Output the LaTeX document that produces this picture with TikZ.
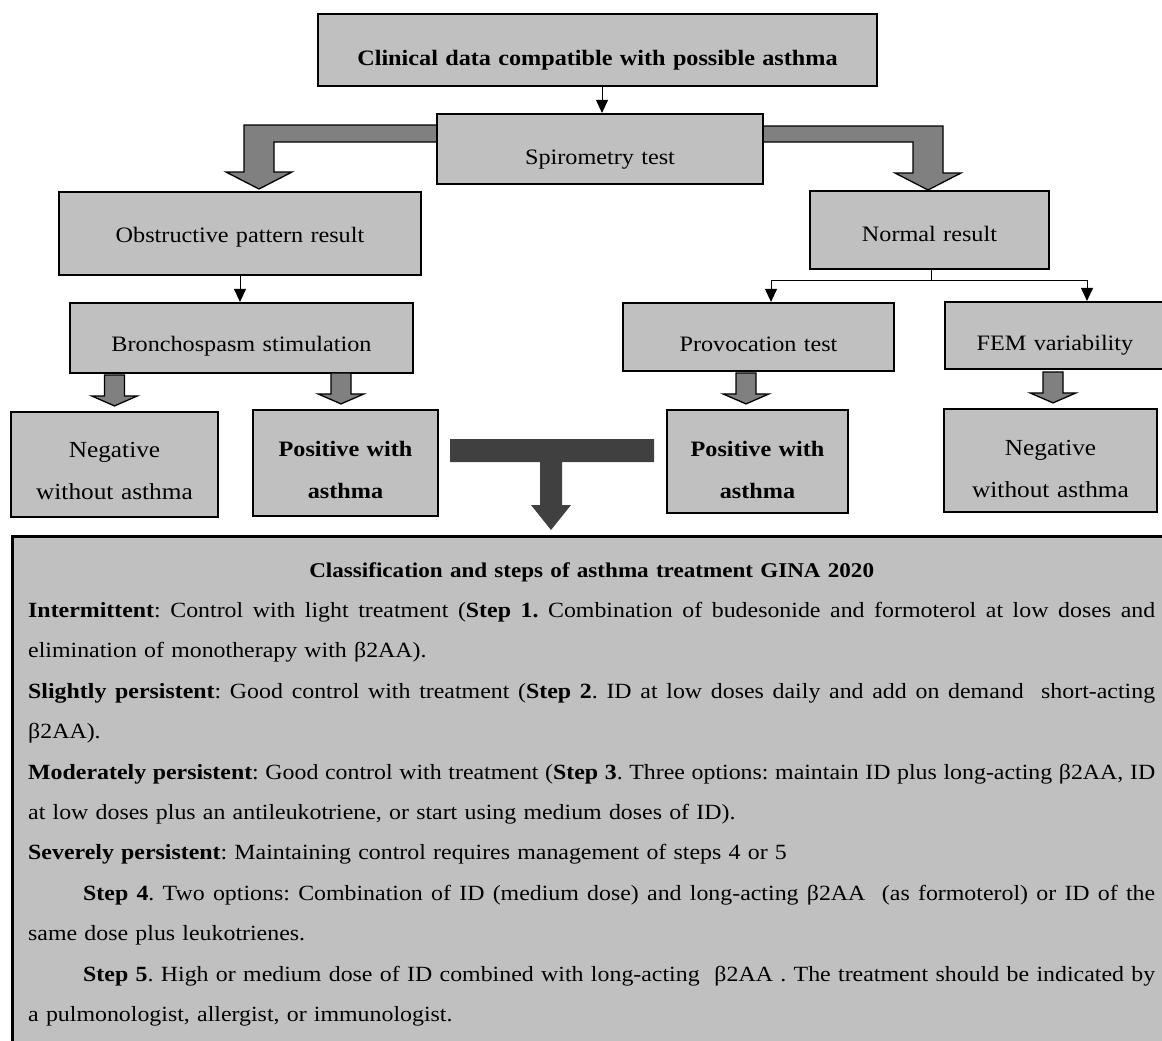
\documentclass[tikz,border=0pt]{standalone}
\usepackage{fontspec}
\setmainfont{Liberation Serif}[FakeStretch=1.1]
\usetikzlibrary{arrows.meta,calc}
\definecolor{boxgray}{HTML}{C0C0C0}
\definecolor{midgray}{HTML}{808080}
\definecolor{tgray}{HTML}{404040}
\newcommand\jl[1]{{\spaceskip=0.25em plus 1fil minus 0.06em\relax\xspaceskip=\spaceskip\makebox[\linewidth][s]{#1}}}
\tikzset{
  flowbox/.style={draw=black, line width=2.2pt, fill=boxgray, inner sep=0pt, anchor=base, align=center},
  lbl/.style={font=\fontsize{22}{26}\selectfont},
  lbltwo/.style={font=\fontsize{23}{42}\selectfont},
  thinarrow/.style={draw=black, line width=1pt, -{Triangle[length=13pt,width=12pt]}},
  blockarrow/.style={fill=midgray, draw=black, line width=1.3pt, line join=miter},
  pics/smalldown/.style={code={\filldraw[blockarrow] (-10,-36) -- (10,-36) -- (10,-15) -- (23,-15) -- (0,-5) -- (-23,-15) -- (-10,-15) -- cycle;}},
}
\begin{document}
\begin{tikzpicture}[x=1pt,y=-1pt]
\useasboundingbox (0,0) rectangle (1162,1041);
\clip (0,0) rectangle (1162,1041);
\fill[white] (0,0) rectangle (1162,1041);

% big elbow arrows from spirometry
\filldraw[blockarrow] (440,125) -- (244,125) -- (244,172) -- (226,172) -- (259,189) -- (292,172) -- (274,172) -- (274,142) -- (440,142);
\filldraw[blockarrow] (760,126) -- (943,126) -- (943,173) -- (961,173) -- (928,190) -- (895,173) -- (913,173) -- (913,142) -- (760,142);

% boxes
\node[flowbox, text width=559pt, text height=52pt, text depth=20pt, font=\fontsize{22}{26}\selectfont\bfseries] (top) at (597.5,66) {Clinical data compatible with possible asthma};
\node[flowbox, lbl, text width=326pt, text height=50pt, text depth=20pt] (spiro) at (600,164) {Spirometry test};
\node[flowbox, lbl, text width=362pt, text height=50pt, text depth=33pt] (obstr) at (240,242) {Obstructive pattern result};
\node[flowbox, lbl, text width=239pt, text height=50pt, text depth=28pt] (normal) at (929.5,241) {Normal result};
\node[flowbox, lbl, text width=343pt, text height=48pt, text depth=22pt] (bronch) at (241.5,351) {Bronchospasm stimulation};
\node[flowbox, lbl, text width=271pt, text height=48pt, text depth=20pt] (provoc) at (758.5,351) {Provocation test};
\node[flowbox, lbl, text width=220pt, text height=48pt, text depth=19pt] (fem) at (1055,350) {FEM variability};
\node[flowbox, lbltwo, text width=207pt, text height=45pt, text depth=60pt] (negL) at (114.5,457) {Negative\\without asthma};
\node[flowbox, lbltwo, text width=185pt, text height=46pt, text depth=60pt, font=\bfseries\fontsize{22}{42}\selectfont] (posL) at (345.5,456) {Positive with\\asthma};
\node[flowbox, lbltwo, text width=181pt, text height=46pt, text depth=57pt, font=\bfseries\fontsize{22}{42}\selectfont] (posR) at (757.5,456) {Positive with\\asthma};
\node[flowbox, lbltwo, text width=213pt, text height=46pt, text depth=57pt] (negR) at (1050.5,455) {Negative\\without asthma};

% thin connectors
\draw[thinarrow] ([xshift=4.5pt]top.south) -- ([xshift=2pt]spiro.north);
\draw[thinarrow] (obstr.south) -- (obstr.south |- bronch.north);
\coordinate (split) at ($(normal.south)+(1.5,10)$);
\draw[line width=1pt] (normal.south -| split) -- (split);
\draw[thinarrow] (split) -| ([xshift=12.5pt]provoc.north);
\draw[thinarrow] (split) -| ([xshift=32pt]fem.north);

% small block arrows
\pic at (negL.north) {smalldown};
\pic at ([xshift=-4.5pt]posL.north) {smalldown};
\pic at ([xshift=-11.5pt]posR.north) {smalldown};
\pic at ([xshift=2.5pt]negR.north) {smalldown};

% GINA box
\node[draw=black, line width=2.5pt, fill=boxgray, anchor=north west, minimum width=1200pt, minimum height=560pt, inner sep=0pt] (gina) at (11,535) {};

% T arrow
\fill[tgray] (450,439) -- (654,439) -- (654,462) -- (562,462) -- (562,505) -- (571,505) -- (551,530) -- (531,505) -- (540,505) -- (540,462) -- (450,462) -- cycle;

\node[anchor=base west, text width=1127pt, inner sep=0pt, align=left, font=\fontsize{21.7}{40.4}\selectfont\frenchspacing] (ginatext) at (28,577) {%
\makebox[\linewidth][c]{\fontsize{21}{40.4}\selectfont\textbf{Classification and steps of asthma treatment GINA 2020}}\\
\jl{\textbf{Intermittent}: Control with light treatment (\textbf{Step 1.} Combination of budesonide and formoterol at low doses and}\\
elimination of monotherapy with β2AA).\\
\jl{\textbf{Slightly persistent}: Good control with treatment (\textbf{Step 2}. ID at low doses daily and add on demand\ \ short-acting}\\
β2AA).\\
\jl{\textbf{Moderately persistent}: Good control with treatment (\textbf{Step 3}. Three options: maintain ID plus long-acting β2AA, ID}\\
at low doses plus an antileukotriene, or start using medium doses of ID).\\
\textbf{Severely persistent}: Maintaining control requires management of steps 4 or 5\\
\jl{\hspace*{55pt}\textbf{Step 4}. Two options: Combination of ID (medium dose) and long-acting β2AA\ \ (as formoterol) or ID of the}\\
same dose plus leukotrienes.\\
\jl{\hspace*{55pt}\textbf{Step 5}. High or medium dose of ID combined with long-acting\ \ β2AA . The treatment should be indicated by}\\
a pulmonologist, allergist, or immunologist.};
\end{tikzpicture}
\end{document}
